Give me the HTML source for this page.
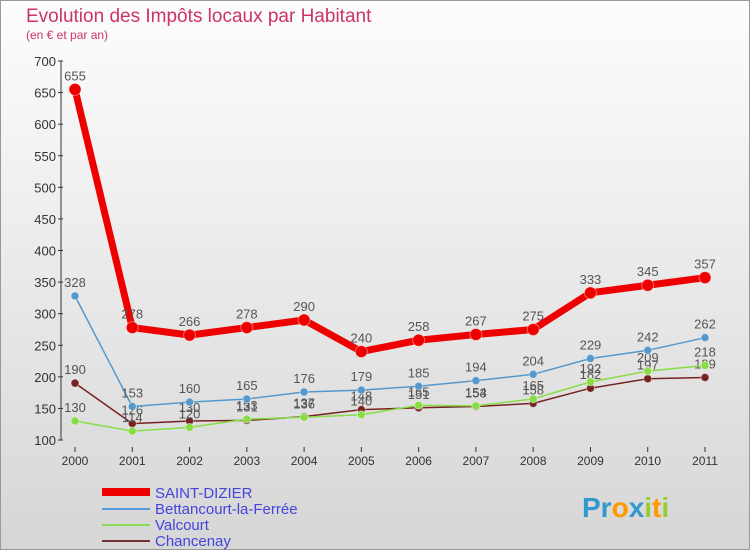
<!DOCTYPE html>
<html><head><meta charset="utf-8"><style>
body{margin:0;width:750px;height:550px;overflow:hidden;font-family:"Liberation Sans",sans-serif}
</style></head><body>
<svg id="c" width="750" height="550" xmlns="http://www.w3.org/2000/svg">
<defs><linearGradient id="bg" x1="0" y1="0" x2="0" y2="1"><stop offset="0" stop-color="#fdfdfd"/><stop offset="1" stop-color="#d6d6d6"/></linearGradient></defs>
<rect x="0.5" y="0.5" width="749" height="549" fill="url(#bg)" stroke="#999"/>
<text x="26" y="22" font-size="19" fill="#cc3366">Evolution des Impôts locaux par Habitant</text>
<text x="26" y="39" font-size="12" fill="#cc3366">(en € et par an)</text>
<g id="axes"></g><g id="series"></g>
<g>
<line x1="102" y1="492" x2="150" y2="492" stroke="#ee0000" stroke-width="8"/>
<text x="155" y="498" font-size="15" fill="#4444dd">SAINT-DIZIER</text>
<line x1="102" y1="509" x2="150" y2="509" stroke="#5599dd" stroke-width="2"/>
<text x="155" y="514" font-size="15" fill="#4444dd">Bettancourt-la-Ferrée</text>
<line x1="102" y1="525" x2="150" y2="525" stroke="#88dd55" stroke-width="2"/>
<text x="155" y="530" font-size="15" fill="#4444dd">Valcourt</text>
<line x1="102" y1="541" x2="150" y2="541" stroke="#773333" stroke-width="2"/>
<text x="155" y="546" font-size="15" fill="#4444dd">Chancenay</text>
</g>
<text x="582" y="517" font-size="28" font-weight="bold"><tspan fill="#3399cc">Pr</tspan><tspan fill="#ff9900">o</tspan><tspan fill="#3399cc">x</tspan><tspan fill="#99cc33">i</tspan><tspan fill="#ff9900">t</tspan><tspan fill="#99cc33">i</tspan></text>
</svg>
<script>
const years=["2000","2001","2002","2003","2004","2005","2006","2007","2008","2009","2010","2011"];
const yTicks=[100,150,200,250,300,350,400,450,500,550,600,650,700];
const saintDizier=[655,278,266,278,290,240,258,267,275,333,345,357];
const bettancourt=[328,153,160,165,176,179,185,194,204,229,242,262];
const valcourt=[130,114,120,133,136,140,155,154,165,192,209,218];
const chancenay=[190,126,130,131,137,148,151,153,158,182,197,199];
const NS="http://www.w3.org/2000/svg";
const x=i=>75+i*(630/11);
const y=v=>440-(v-100)*379/600;
function mk(t,a,p){const e=document.createElementNS(NS,t);for(const k in a)e.setAttribute(k,a[k]);p.appendChild(e);return e;}
const ax=document.getElementById('axes'),se=document.getElementById('series');
yTicks.forEach(v=>{
 const l=mk('line',{x1:58,x2:63,y1:y(v),y2:y(v),stroke:'#333'},ax);
 
 
 const t=mk('text',{x:56,y:y(v)+5,'text-anchor':'end','font-size':13,fill:'#333'},ax);t.textContent=v;
 
 
});
const la=mk('line',{x1:61,x2:61,y1:61,y2:440,stroke:'#333'},ax);


years.forEach((yr,i)=>{
 const l=mk('line',{x1:x(i),x2:x(i),y1:447,y2:452,stroke:'#333'},ax);
 
 
 const t=mk('text',{x:x(i),y:465,'text-anchor':'middle','font-size':12,fill:'#333'},ax);t.textContent=yr;
 
 
});
function series(vals,color,w,r,name){
 const g=mk('g',{},se);
 
 
 const pl=mk('polyline',{points:vals.map((v,i)=>x(i)+','+y(v)).join(' '),fill:'none',stroke:color,'stroke-width':w,'stroke-linejoin':'round'},g);
 
 
 vals.forEach((v,i)=>{
  const c=mk('circle',{cx:x(i),cy:y(v),r:r,fill:color,stroke:'#fff','stroke-opacity':0.4},g);
  
  
  const t=mk('text',{x:x(i),y:y(v)-9,'text-anchor':'middle','font-size':13,fill:'#555'},g);t.textContent=v;
  
  
 });
}
series(chancenay,'#772222',1.5,4,'chancenay');
series(valcourt,'#88dd44',1.5,4,'valcourt');
series(bettancourt,'#5599cc',1.5,4,'bettancourt');
series(saintDizier,'#ee0000',7,6,'saint-dizier');
</script>
</body></html>
